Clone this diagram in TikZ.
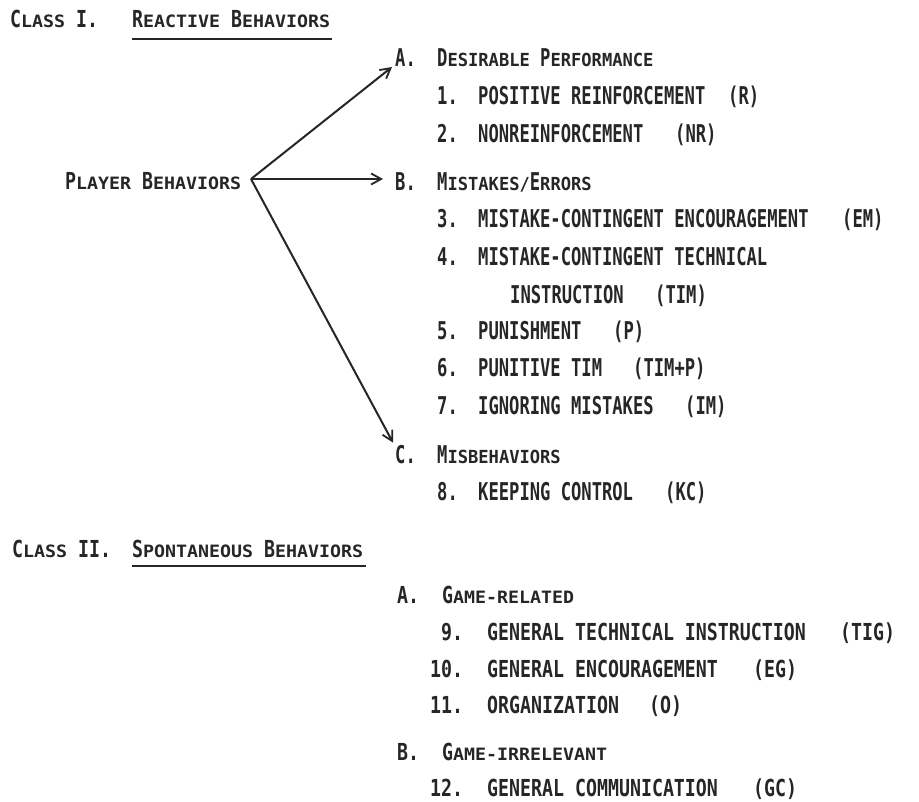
\documentclass[tikz,border=0pt]{standalone}
\usepackage{fontspec}
\usetikzlibrary{arrows.meta}
\newfontfamily\fA[FakeStretch=0.70,UprightFont=* Bold]{DejaVu Sans Mono}
\newfontfamily\fS[FakeStretch=0.95,UprightFont=* Bold]{DejaVu Sans Mono}
\newfontfamily\fB[FakeStretch=0.78,UprightFont=* Bold]{DejaVu Sans Mono}
\newfontfamily\fT[FakeStretch=1.075,UprightFont=* Bold]{DejaVu Sans Mono}
\newcommand\upf{\fontsize{24.5}{26}\fA}
\newcommand\lof{\fontsize{23.4}{26}\fB}
\newcommand\us[1]{{\fontsize{18}{20}\fS #1}}
\newcommand\ls[1]{{\fontsize{17}{20}\fT #1}}
\tikzset{
  up/.style={anchor=base west, inner sep=0pt, font=\upf, text=black!85},
  lo/.style={anchor=base west, inner sep=0pt, font=\lof, text=black!85},
  arr/.style={line width=2pt, draw=black!85, -{Straight Barb[length=10pt,width=11pt,line width=1.8pt]}},
  ul/.style={line width=1.6pt, draw=black!85},
}
\begin{document}
\begin{tikzpicture}[x=1pt,y=-1pt]
\useasboundingbox[fill=white] (0,0) rectangle (919,802);
% Class I
\node[lo] (c1l) at (10,28) {C\ls{LASS} I.};
\node[lo] (rb) at (132,28) {R\ls{EACTIVE} B\ls{EHAVIORS}};
\draw[ul] ([yshift=-11pt]rb.base west) -- ([yshift=-11pt,xshift=2pt]rb.base east);
\node[lo] (pb) at (65,190) {P\ls{LAYER} B\ls{EHAVIORS}};
\coordinate (o) at (251,179);
% A
\node[up] (Aa) at (395,67) {A.};
\node[up] (Ah) at (437,67) {D\us{ESIRABLE} P\us{ERFORMANCE}};
\node[up] (n1) at (437,105) {1.};
\node[up] (t1) at (478,105) {POSITIVE REINFORCEMENT};
\node[up] (k1) at (728,105) {(R)};
\node[up] (n2) at (437,143) {2.};
\node[up] (t2) at (478,143) {NONREINFORCEMENT};
\node[up] (k2) at (675,143) {(NR)};
% B
\node[up] (Ba) at (395,191) {B.};
\node[up] (Bh) at (437,191) {M\us{ISTAKES/}E\us{RRORS}};
\node[up] (n3) at (437,228) {3.};
\node[up] (t3) at (478,228) {MISTAKE-CONTINGENT ENCOURAGEMENT};
\node[up] (k3) at (842,228) {(EM)};
\node[up] (n4) at (437,266) {4.};
\node[up] (t4) at (478,266) {MISTAKE-CONTINGENT TECHNICAL};
\node[up] (t4b) at (510,304) {INSTRUCTION};
\node[up] (k4) at (655,304) {(TIM)};
\node[up] (n5) at (437,340) {5.};
\node[up] (t5) at (478,340) {PUNISHMENT};
\node[up] (k5) at (613,340) {(P)};
\node[up] (n6) at (437,377) {6.};
\node[up] (t6) at (478,377) {PUNITIVE TIM};
\node[up] (k6) at (633,377) {(TIM+P)};
\node[up] (n7) at (437,415) {7.};
\node[up] (t7) at (478,415) {IGNORING MISTAKES};
\node[up] (k7) at (685,415) {(IM)};
% C
\node[up] (Ca) at (395,463) {C.};
\node[up] (Ch) at (437,463) {M\us{ISBEHAVIORS}};
\node[up] (n8) at (437,500) {8.};
\node[up] (t8) at (478,500) {KEEPING CONTROL};
\node[up] (k8) at (665,500) {(KC)};
% arrows
\draw[arr] (o) -- ([xshift=-3pt]Aa.base west);
\draw[arr] (o) -- ([xshift=-12pt]o -| Ba.west);
\draw[arr] (o) -- ([xshift=-2pt,yshift=2pt]Ca.north west);
% Class II
\node[lo] (c2l) at (12,557) {C\ls{LASS} II.};
\node[lo] (sb) at (132,557) {S\ls{PONTANEOUS} B\ls{EHAVIORS}};
\draw[ul] ([yshift=-9pt]sb.base west) -- ([yshift=-9pt,xshift=3pt]sb.base east);
\node[lo] (GAa) at (397,603) {A.};
\node[lo] (GAh) at (442,603) {G\ls{AME-RELATED}};
\node[lo] (n9) at (441,640) {9.};
\node[lo] (t9) at (487,640) {GENERAL TECHNICAL INSTRUCTION};
\node[lo] (k9) at (840,640) {(TIG)};
\node[lo] (n10) at (430,677) {10.};
\node[lo] (t10) at (487,677) {GENERAL ENCOURAGEMENT};
\node[lo] (k10) at (753,677) {(EG)};
\node[lo] (n11) at (430,713) {11.};
\node[lo] (t11) at (487,713) {ORGANIZATION};
\node[lo] (k11) at (649,713) {(O)};
\node[lo] (GBa) at (397,760) {B.};
\node[lo] (GBh) at (442,760) {G\ls{AME-IRRELEVANT}};
\node[lo] (n12) at (430,796) {12.};
\node[lo] (t12) at (487,796) {GENERAL COMMUNICATION};
\node[lo] (k12) at (753,796) {(GC)};
\end{tikzpicture}
\end{document}
